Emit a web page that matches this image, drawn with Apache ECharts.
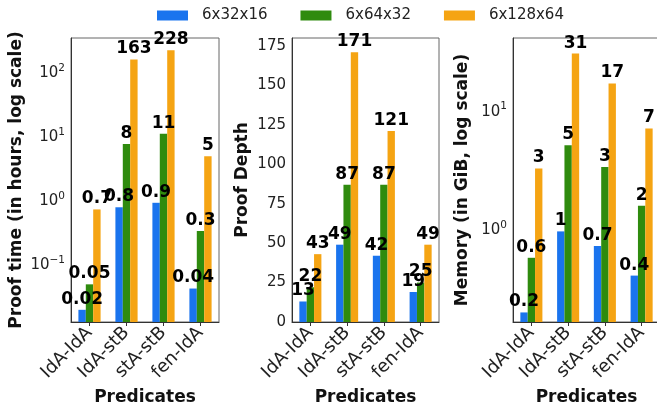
<!DOCTYPE html>
<html>
<head>
<meta charset="utf-8">
<script src="https://cdn.jsdelivr.net/npm/echarts@6/dist/echarts.min.js"></script>
<style>
html,body{margin:0;padding:0;background:#fff;}
#c{width:657px;height:410px;}
</style>
</head>
<body>
<div id="c"></div>
<script>
var categories = ['IdA-IdA', 'IdA-stB', 'stA-stB', 'fen-IdA'];
var seriesNames = ['6x32x16', '6x64x32', '6x128x64'];
var colors = ['#1a74ee', '#2f8b0e', '#f5a413'];

// Proof time (hours)
var time_6x32x16  = [0.02, 0.8, 0.94, 0.043];
var time_6x64x32  = [0.05, 7.8, 11.3, 0.34];
var time_6x128x64 = [0.74, 163, 228, 5.0];

// Proof depth
var depth_6x32x16  = [13, 49, 42, 19];
var depth_6x64x32  = [22, 87, 87, 25];
var depth_6x128x64 = [43, 171, 121, 49];

// Memory (GiB)
var mem_6x32x16  = [0.2, 0.97, 0.73, 0.41];
var mem_6x64x32  = [0.58, 5.2, 3.4, 1.6];
var mem_6x128x64 = [3.3, 31, 17.3, 7.2];

var yTitles = ['Proof time (in hours, log scale)', 'Proof Depth', 'Memory (in GiB, log scale)'];
var xTitle = 'Predicates';

var FONT = 'DejaVu Sans';
function fmt(v) {
  return v >= 1 ? String(Math.round(v)) : String(Number(v.toPrecision(1)));
}
function logLabel(v) {
  var e = Math.round(Math.log10(v));
  var s = e < 0 ? '\u2212' + (-e) : String(e);
  return '{b|10}{s|' + s + '}';
}
var richLog = {
  b: {fontSize: 15, fontFamily: FONT, color: '#222'},
  s: {fontSize: 10.5, fontFamily: FONT, color: '#222', padding: [0, 0, 10, 0]}
};

var grids = [
  {left: 71, top: 38, width: 148, height: 284},
  {left: 292, top: 38, width: 147, height: 284},
  {left: 513, top: 38, width: 147, height: 284}
];
grids.forEach(function (g) {
  g.show = true; g.borderColor = '#666'; g.borderWidth = 1;
  g.containLabel = false; g.outerBoundsMode = 'none';
});

var yNameGaps = [46, 41, 42];
var yAxes = [
  {type: 'log', min: 0.0129, max: 353, startValue: 0.0129},
  {type: 'value', min: 0, max: 180, interval: 25},
  {type: 'log', min: 0.166, max: 42, startValue: 0.166}
].map(function (a, i) {
  a.gridIndex = i;
  a.name = yTitles[i];
  a.nameLocation = 'middle';
  a.nameGap = yNameGaps[i];
  a.nameRotate = 90;
  a.nameTextStyle = {fontFamily: FONT, fontWeight: 'bold', fontSize: 17, color: '#111'};
  a.axisLine = {show: true, lineStyle: {color: '#333', width: 1}};
  a.axisTick = {show: false};
  a.splitLine = {show: false};
  a.axisLabel = {
    fontFamily: FONT, fontSize: 15, color: '#222', margin: 6,
    showMinLabel: a.type === 'log' ? false : true,
    showMaxLabel: false
  };
  if (a.type === 'log') {
    a.logBase = 10;
    a.axisLabel.formatter = logLabel;
    a.axisLabel.rich = richLog;
  }
  return a;
});

var xAxes = [0, 1, 2].map(function (i) {
  return {
    type: 'category', gridIndex: i, data: categories,
    name: xTitle, nameLocation: 'middle', nameGap: 66,
    nameTextStyle: {fontFamily: FONT, fontWeight: 'bold', fontSize: 17, color: '#111'},
    axisLine: {show: true, lineStyle: {color: '#333', width: 1}},
    axisTick: {show: true, alignWithLabel: true, length: 4, lineStyle: {color: '#333'}},
    axisLabel: {rotate: 45, fontFamily: FONT, fontSize: 18, color: '#222', margin: 8, interval: 0},
    splitLine: {show: false}
  };
});

var panels = [
  [time_6x32x16, time_6x64x32, time_6x128x64],
  [depth_6x32x16, depth_6x64x32, depth_6x128x64],
  [mem_6x32x16, mem_6x64x32, mem_6x128x64]
];
var series = [];
panels.forEach(function (sets, p) {
  sets.forEach(function (vals, s) {
    series.push({
      type: 'bar', name: seriesNames[s], xAxisIndex: p, yAxisIndex: p,
      data: vals, barWidth: '20%', barGap: '0%',
      itemStyle: {color: colors[s]},
      label: {
        show: true, position: 'top', distance: 2,
        fontFamily: FONT, fontWeight: 'bold', fontSize: 17, color: '#000',
        formatter: function (d) { return fmt(d.value); }
      }
    });
  });
});

var chart = echarts.init(document.getElementById('c'), null, {renderer: 'canvas'});
chart.setOption({
  animation: false,
  backgroundColor: '#fff',
  legend: {
    data: seriesNames, left: 157, top: 8, padding: 0,
    itemWidth: 31, itemHeight: 10, itemGap: 33,
    textStyle: {fontFamily: FONT, fontSize: 15, color: '#222', padding: [0, 0, 0, 9]},
    icon: 'rect'
  },
  grid: grids,
  xAxis: xAxes,
  yAxis: yAxes,
  series: series
});
</script>
</body>
</html>
